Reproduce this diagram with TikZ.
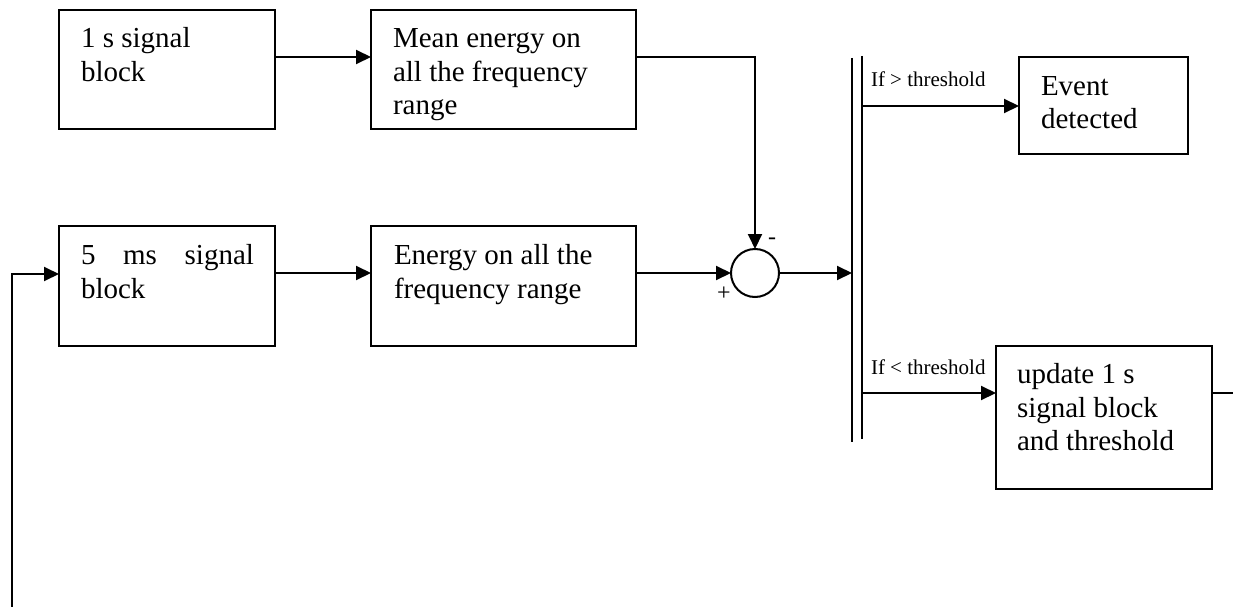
\documentclass[tikz,border=0pt]{standalone}
\usepackage{fontspec}
\setmainfont{Liberation Serif}
\usetikzlibrary{arrows.meta,calc}
\begin{document}
\begin{tikzpicture}[x=1pt,y=-1pt,
  line width=2pt,
  blk/.style={draw, rectangle, anchor=north west, inner sep=0pt, outer sep=0pt},
  btxt/.style={anchor=north west, inner sep=0pt, align=left, font=\fontsize{29}{33.5}\selectfont},
  stxt/.style={anchor=base west, inner sep=0pt, font=\fontsize{21}{25}\selectfont},
  arr/.style={-{Triangle[length=15pt,width=14pt]}},
  ]
\useasboundingbox (0,0) rectangle (1233,607);
% boxes
\node[blk, minimum width=216pt, minimum height=119pt] (b1) at (59,10) {};
\node[blk, minimum width=265pt, minimum height=119pt] (b2) at (371,10) {};
\node[blk, minimum width=216pt, minimum height=120pt] (b3) at (59,226) {};
\node[blk, minimum width=265pt, minimum height=120pt] (b4) at (371,226) {};
\node[blk, minimum width=169pt, minimum height=97pt] (ev) at (1019,57) {};
\node[blk, minimum width=216pt, minimum height=143pt] (up) at (996,346) {};
% texts
\node[btxt] (t1) at (80,23.5) {\strut 1 s signal\\block};
\node[btxt] (t2) at (392,23.5) {\strut Mean energy on\\all the frequency\\range};
\node[btxt] (t3) at (80,240.5) {\strut\hbox to 173pt{5\hfill ms\hfill signal}\\block};
\node[btxt] (t4) at (393,240.5) {\strut Energy on all the\\frequency range};
\node[btxt] (t5) at (1040,71) {\strut Event\\detected};
\node[btxt] (t6) at (1016,359.5) {\strut update 1 s\\signal block\\and threshold};
% summing junction
\node[draw, circle, minimum size=48pt, inner sep=0pt, outer sep=0pt] (sum) at (755,273) {};
\node[inner sep=0pt, font=\fontsize{24}{24}\selectfont] (minus) at (772,241) {-};
\node[inner sep=0pt, font=\fontsize{24}{24}\selectfont] (plus) at (724,294) {+};
% bar
\coordinate (barLt) at (852,58);
\coordinate (barLb) at (852,442);
\coordinate (barRt) at (862,56);
\coordinate (barRb) at (862,439);
\draw (barLt) -- (barLb);
\draw (barRt) -- (barRb);
\coordinate (barIn) at (852,273);
\coordinate (barUp) at (862,106);
\coordinate (barDn) at (862,393);
% labels
\node[stxt] (l1) at (870,87) {If > threshold};
\node[stxt] (l2) at (870,374) {If < threshold};
% connectors
\draw[arr] ([yshift=12.5pt]b1.east) -- ([yshift=12.5pt]b2.west);
\draw[arr] ([yshift=12.5pt]b2.east) -| (sum.north);
\draw[arr] ([yshift=13pt]b3.east) -- ([yshift=13pt]b4.west);
\draw[arr] (sum.west -| b4.east) -- (sum.west);
\draw[arr] (sum.east) -- (barIn);
\draw[arr] (barUp) -- (barUp -| ev.west);
\draw[arr] (barDn) -- (barDn -| up.west);
\coordinate (outR) at (1233,393);
\draw (outR -| up.east) -- (outR);
\coordinate (fb0) at (12,607);
\coordinate (fb1) at (12,274);
\draw[arr] (fb0) -- (fb1) -- (fb1 -| b3.west);
\end{tikzpicture}
\end{document}
